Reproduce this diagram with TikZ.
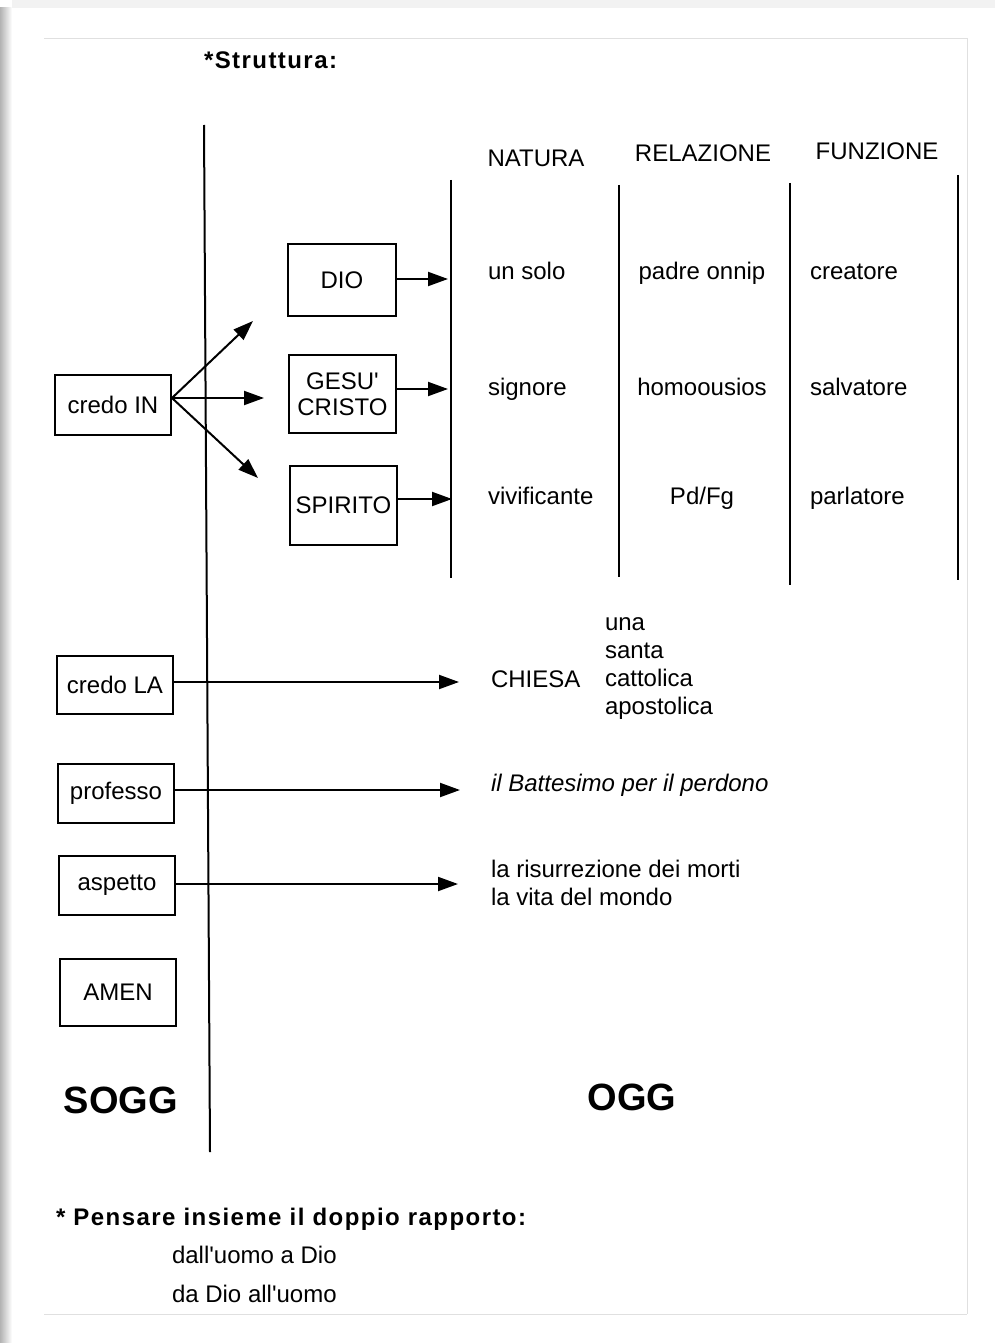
\documentclass[tikz,border=0pt]{standalone}
\usepackage{fontspec}
\setmainfont{Liberation Sans}
\usetikzlibrary{arrows.meta, positioning, calc}

\begin{document}
\begin{tikzpicture}[x=1pt, y=-1pt, line width=2pt,
  every node/.style={font=\fontsize{24}{28}\selectfont, inner sep=0pt},
  casella/.style={draw, line width=2pt, align=center},
  freccia/.style={-{Triangle[length=20pt,width=14pt]}},
  voce/.style={text height=17pt, text depth=5pt},
  cella/.style={voce, anchor=west},
  titolo/.style={anchor=west, font=\fontsize{24}{28}\selectfont\bfseries\addfontfeature{LetterSpace=6}},
  grande/.style={font=\fontsize{38}{40}\selectfont\bfseries}]
\useasboundingbox (0,0) rectangle (995,1343);
\fill[white] (0,0) rectangle (995,1343);
\shade[left color=black!30, right color=white] (0,8) rectangle (12,1343);
\fill[black!5] (12,0) rectangle (995,8);
\draw[black!12, line width=1pt] (44,39) -- (967,39) -- (967,1314);
\draw[black!12, line width=1pt] (44,1314) -- (967,1314);

\node[titolo] (titolo) at (203,60) {*Struttura:};

% linea SOGG / OGG
\draw (204,125) -- (210,1152);

% tabella
\node (natura) at (536,158) {NATURA};
\node (relazione) at (703,153) {RELAZIONE};
\node (funzione) at (877,151) {FUNZIONE};
\foreach \x/\a/\b in {451/180/578, 619/185/577, 790/183/585, 958/175/580}
  \draw (\x,\a) -- (\x,\b);
\foreach \r/\y/\nat/\rel/\fun in {1/273/un solo/padre onnip/creatore,
                                  2/389/signore/homoousios/salvatore,
                                  3/498/vivificante/{Pd/Fg}/parlatore}{
  \node[cella] (nat\r) at (487,\y) {\nat};
  \node[voce] (rel\r) at (702,\y) {\rel};
  \node[cella] (fun\r) at (809,\y) {\fun};
}

% soggetto
\node[casella, minimum width=116pt, minimum height=60pt] (credoin) at (113,405) {credo IN};
\node[casella, minimum width=108pt, minimum height=72pt] (dio) at (342,280) {DIO};
\node[casella, minimum width=107pt, minimum height=78pt] (gesu) at (342.5,394) {GESU\textquotesingle\\[-2pt]CRISTO};
\node[casella, minimum width=107pt, minimum height=79pt] (spirito) at (343.5,505.5) {SPIRITO};
\node[casella, minimum width=116pt, minimum height=58pt] (credola) at (115,685) {credo LA};
\node[casella, minimum width=116pt, minimum height=59pt] (professo) at (116,793.5) {professo};
\node[casella, minimum width=116pt, minimum height=59pt] (aspetto) at (117,885.5) {aspetto};
\node[casella, minimum width=116pt, minimum height=67pt] (amen) at (118,992.5) {AMEN};

\coordinate (su) at (253,321);
\coordinate (mezzo) at (264,398);
\coordinate (giu) at (258,478);
\draw[freccia] ([yshift=7pt]credoin.east) -- (su);
\draw[freccia] ([yshift=7pt]credoin.east) -- (mezzo);
\draw[freccia] ([yshift=7pt]credoin.east) -- (giu);

\coordinate (pdio) at (448,279);
\coordinate (pgesu) at (448,389);
\coordinate (pspirito) at (452,499);
\draw[freccia] (dio.east |- pdio) -- (pdio);
\draw[freccia] (gesu.east |- pgesu) -- (pgesu);
\draw[freccia] (spirito.east |- pspirito) -- (pspirito);

% oggetto
\node[cella] (chiesa) at (490,681) {CHIESA};
\foreach \i/\y/\t in {1/624/una, 2/652/santa, 3/680/cattolica, 4/708/apostolica}
  \node[cella] (nota\i) at (604,\y) {\t};
\node[cella, font=\fontsize{24}{28}\selectfont\itshape] (battesimo) at (490,785) {il Battesimo per il perdono};
\node[cella] (risurrezione) at (490,871) {la risurrezione dei morti};
\node[cella] (vita) at (490,899) {la vita del mondo};

\coordinate (pla) at (459,682);
\coordinate (ppro) at (460,790);
\coordinate (pasp) at (458,884);
\draw[freccia] (credola.east |- pla) -- (pla);
\draw[freccia] (professo.east |- ppro) -- (ppro);
\draw[freccia] (aspetto.east |- pasp) -- (pasp);

\node[grande] (sogg) at (121,1100) {SOGG};
\node[grande] (ogg) at (632,1097) {OGG};

\node[titolo] (pensare) at (55,1219) {* Pensare insieme il doppio rapporto:};
\node[cella] (uomodio) at (171,1257) {dall\textquotesingle uomo a Dio};
\node[cella] (diouomo) at (171,1296) {da Dio all\textquotesingle uomo};
\end{tikzpicture}
\end{document}
